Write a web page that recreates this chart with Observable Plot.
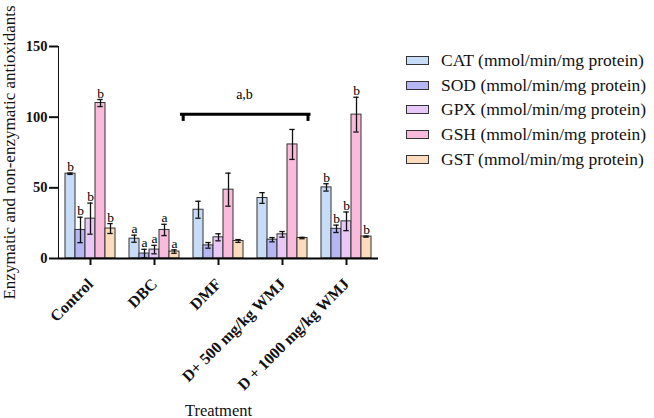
<!DOCTYPE html>
<html>
<head>
<meta charset="utf-8">
<script src="https://cdn.jsdelivr.net/npm/d3@7"></script>
<script src="https://cdn.jsdelivr.net/npm/@observablehq/plot@0.6"></script>
<style>
  body { margin: 0; background: #fff; }
  #wrap { position: relative; width: 654px; height: 418px; font-family: "Liberation Serif", "Times New Roman", serif; }
  #wrap svg { position: absolute; left: 0; top: 0; }
  #legend { position: absolute; left: 406px; top: 48px; }
  .row { display: flex; align-items: center; height: 24.8px; }
  .sw { width: 21px; height: 7px; border: 1.5px solid #333; margin-right: 12px; }
  .lt { font-size: 17.5px; color: #111; white-space: nowrap; }
  g[aria-label="y-axis tick label"], g[aria-label="fx-axis tick label"] { font-weight: bold; }
  g[aria-label="y-axis tick label"] text { font-size: 14.5px; }
  g[aria-label="fx-axis tick label"] text { font-size: 16px; }
  g[aria-label="y-axis tick"] path, g[aria-label="fx-axis tick"] path { stroke-width: 2; }
  g[aria-label="y-axis label"] text { font-size: 17px; }
  g[aria-label="fx-axis label"] text { font-size: 16.5px; }
</style>
</head>
<body>
<div id="wrap"></div>
<script>
const groups = ["Control", "DBC", "DMF", "D+ 500 mg/kg WMJ", "D + 1000 mg/kg WMJ"];
const series = ["CAT", "SOD", "GPX", "GSH", "GST"];
const legendLabels = [
  "CAT (mmol/min/mg protein)",
  "SOD (mmol/min/mg protein)",
  "GPX (mmol/min/mg protein)",
  "GSH (mmol/min/mg protein)",
  "GST (mmol/min/mg protein)"
];
const colors = ["#c6dcf7", "#b6b6f5", "#e6c9f7", "#f9badc", "#fcdcbd"];

// means, per series, ordered by groups
const CAT = [60, 14, 34.5, 42.8, 50.3];
const SOD = [20.2, 3.5, 9.3, 13.3, 21];
const GPX = [28.2, 6.3, 15, 17.1, 26.3];
const GSH = [110, 20.2, 48.7, 80.7, 101.8];
const GST = [21.2, 4.9, 12.4, 14.5, 15.5];
// error bars (±)
const CAT_err = [0.5, 2.5, 6, 3.8, 2.6];
const SOD_err = [9, 3, 2, 1.5, 2.6];
const GPX_err = [11, 3, 2.5, 2, 6.6];
const GSH_err = [2.5, 4, 11.7, 10.6, 12.3];
const GST_err = [3.5, 1.2, 1, 0.5, 0.4];
// significance letters per group
const groupLetters = ["b", "a", "", "", "b"];
// bracket spanning groups
const bracketGroups = ["DMF", "D+ 500 mg/kg WMJ"];
const bracketY = 102;
const bracketTickY = 97;
const bracketLabel = "a,b";
const bracketLabelY = 116;

const yTicks = [0, 50, 100, 150];

const means = {CAT, SOD, GPX, GSH, GST};
const errs = {CAT: CAT_err, SOD: SOD_err, GPX: GPX_err, GSH: GSH_err, GST: GST_err};

const data = groups.flatMap((g, gi) => series.map(s => ({
  group: g, series: s, value: means[s][gi], err: errs[s][gi], letter: groupLetters[gi]
})));

const chart = Plot.plot({
  width: 654,
  height: 418,
  marginLeft: 58,
  marginRight: 276,
  marginTop: 46,
  marginBottom: 160,
  style: { fontFamily: "Liberation Serif, Times New Roman, serif", fontSize: "13px", color: "#111", background: "transparent" },
  fx: { domain: groups, padding: 0, label: "Treatment", labelAnchor: "center", labelOffset: 157, tickRotate: -45, tickSize: 7, tickPadding: 16 },
  x: { domain: series, paddingInner: 0, paddingOuter: 0.52, axis: null },
  y: { domain: [0, 150], ticks: yTicks, tickSize: 9, tickPadding: 2, line: true, label: "Enzymatic and non-enzymatic antioxidants", labelArrow: "none", labelAnchor: "center", labelOffset: 56 },
  color: { domain: series, range: colors },
  marks: [
    Plot.barY(data, { fx: "group", x: "series", y: "value", fill: "series", stroke: "#333", strokeWidth: 1 }),
    Plot.ruleX(data, { fx: "group", x: "series", y1: d => d.value - d.err, y2: d => d.value + d.err, stroke: "#111", strokeWidth: 1.3 }),
    Plot.tickY(data, { fx: "group", x: "series", y: d => d.value + d.err, stroke: "#111", strokeWidth: 1.3, insetLeft: 2.3, insetRight: 2.3 }),
    Plot.tickY(data, { fx: "group", x: "series", y: d => d.value - d.err, stroke: "#111", strokeWidth: 1.3, insetLeft: 2.3, insetRight: 2.3 }),
    Plot.text(data.filter(d => d.letter), { fx: "group", x: "series", y: d => d.value + d.err, text: "letter", lineAnchor: "bottom", dy: -2, fontSize: 13.5, fill: "#000" }),
    Plot.ruleY([0], { stroke: "#000", strokeWidth: 2 }),
    // bracket
    Plot.ruleY([{ g: bracketGroups[0], y: bracketY }], { fx: "g", y: "y", stroke: "#000", strokeWidth: 3, insetLeft: -6 }),
    Plot.ruleY([{ g: bracketGroups[1], y: bracketY }], { fx: "g", y: "y", stroke: "#000", strokeWidth: 3, insetRight: 3.5 }),
    Plot.ruleX([{ g: bracketGroups[0], s: "CAT" }], { fx: "g", x: "s", y1: bracketTickY, y2: bracketY, stroke: "#000", strokeWidth: 3, dx: -15.3 }),
    Plot.ruleX([{ g: bracketGroups[1], s: "GST" }], { fx: "g", x: "s", y1: bracketTickY, y2: bracketY, stroke: "#000", strokeWidth: 3, dx: 5.5 }),
    Plot.text([{ g: bracketGroups[0], s: "GST", t: bracketLabel }], { fx: "g", x: "s", y: () => bracketLabelY, text: "t", dx: 6, fontSize: 14, fill: "#000" })
  ]
});

const wrap = document.getElementById("wrap");
wrap.appendChild(chart);

const legend = document.createElement("div");
legend.id = "legend";
series.forEach((s, i) => {
  const row = document.createElement("div");
  row.className = "row";
  const sw = document.createElement("div");
  sw.className = "sw";
  sw.style.background = colors[i];
  const lt = document.createElement("span");
  lt.className = "lt";
  lt.textContent = legendLabels[i];
  row.appendChild(sw);
  row.appendChild(lt);
  legend.appendChild(row);
});
wrap.appendChild(legend);
</script>
</body>
</html>
